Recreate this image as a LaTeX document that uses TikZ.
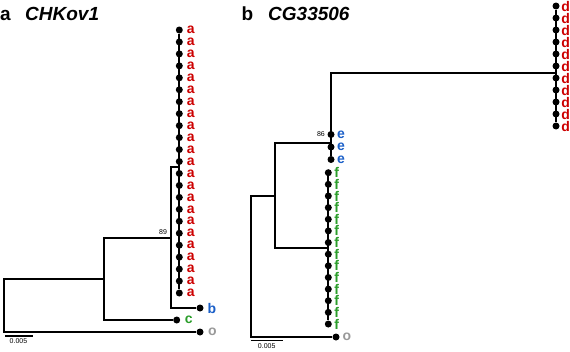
\documentclass[tikz,border=0pt]{standalone}
\usepackage{fontspec}
\setmainfont{Liberation Sans}
\definecolor{tred}{HTML}{CC0000}
\definecolor{tblue}{HTML}{1A5FC8}
\definecolor{tgreen}{HTML}{2A9D2A}
\definecolor{tgray}{HTML}{999999}
\begin{document}
\begin{tikzpicture}[x=1pt,y=-1pt,
  br/.style={line width=1.8pt},
  dot/.style={circle,fill=black,inner sep=0pt,minimum size=7pt},
  tip/.style={font=\fontsize{14}{14}\selectfont\bfseries,inner sep=0pt},
  boot/.style={font=\fontsize{7}{7}\selectfont,inner sep=0pt},
  title/.style={font=\fontsize{19}{19}\selectfont\bfseries,inner sep=0pt,anchor=base west}]
\useasboundingbox (0,0) rectangle (570,351);
% ---------------- panel a ----------------
\node[title] (ta) at (0,20.5) {a};
\node[title] (tna) at (25,20.5) {\itshape CHKov1};
\foreach \i in {1,...,23} {
  \node[dot] (a\i) at (179.3,{30+11.955*(\i-1)}) {};
  \node[tip,text=tred] (la\i) at (190.7,{30+11.955*(\i-1)}) {a};
}
\coordinate (cA) at (179.3,167);
\node[dot] (bA) at (200,308) {};
\node[tip,text=tblue] (lbA) at (212,308) {b};
\node[dot] (cdot) at (176.7,320) {};
\node[tip,text=tgreen] (lc) at (188.7,320) {c};
\node[dot] (oA) at (200,332) {};
\node[tip,text=tgray] (loA) at (212.3,332) {o};
\coordinate (n89) at (171,238);
\coordinate (n2) at (104.3,279.3);
\coordinate (rA) at (4,305.6);
\draw[br] (a1) -- (a23);
\draw[br] (n89) |- (cA);
\draw[br] (n89) |- (bA);
\draw[br] (n2) |- (n89);
\draw[br] (n2) |- (cdot);
\draw[br] (rA) |- (n2);
\draw[br] (rA) |- (oA);
\node[boot] (b89) at (163,232) {89};
\coordinate (sa1) at (5,336);
\coordinate (sa2) at (32.7,336);
\draw[line width=1.3pt] (sa1) -- (sa2);
\node[boot] (lsa) at (18.5,341.5) {0.005};
% ---------------- panel b ----------------
\node[title] (tb) at (241.5,20.5) {b};
\node[title] (tnb) at (268,20.5) {\itshape CG33506};
\foreach \i in {1,...,11} {
  \node[dot] (d\i) at (556,{6+12*(\i-1)}) {};
  \node[tip,text=tred] (ld\i) at (565.7,{6+12*(\i-1)}) {d};
}
\coordinate (cD) at (556,73);
\foreach \i in {1,...,3} {
  \node[dot] (e\i) at (331,{134.5+12.5*(\i-1)}) {};
  \node[tip,text=tblue] (le\i) at (341,{134.5+12.5*(\i-1)}) {e};
}
\foreach \i in {1,...,14} {
  \node[dot] (f\i) at (328.3,{172.7+11.64*(\i-1)}) {};
  \node[tip,text=tgreen] (lf\i) at (336.7,{172.7+11.64*(\i-1)}) {f};
}
\coordinate (cF) at (328.3,248.3);
\node[dot] (oB) at (336,337) {};
\node[tip,text=tgray] (loB) at (347,337) {o};
\coordinate (nE) at (331,143.3);
\coordinate (n1) at (275,196);
\coordinate (rB) at (251,266.5);
\draw[br] (d1) -- (d11);
\draw[br] (f1) -- (f14);
\draw[br] (nE) |- (cD);
\draw[br] (nE) -- (e3);
\draw[br] (n1) |- (nE);
\draw[br] (n1) |- (cF);
\draw[br] (rB) |- (n1);
\draw[br] (rB) |- (oB);
\node[boot,anchor=east] (b86) at (325,134.5) {86};
\coordinate (sb1) at (250.7,340.7);
\coordinate (sb2) at (283.3,340.7);
\draw[line width=1.3pt] (sb1) -- (sb2);
\node[boot] (lsb) at (266.7,346.5) {0.005};
\end{tikzpicture}
\end{document}
